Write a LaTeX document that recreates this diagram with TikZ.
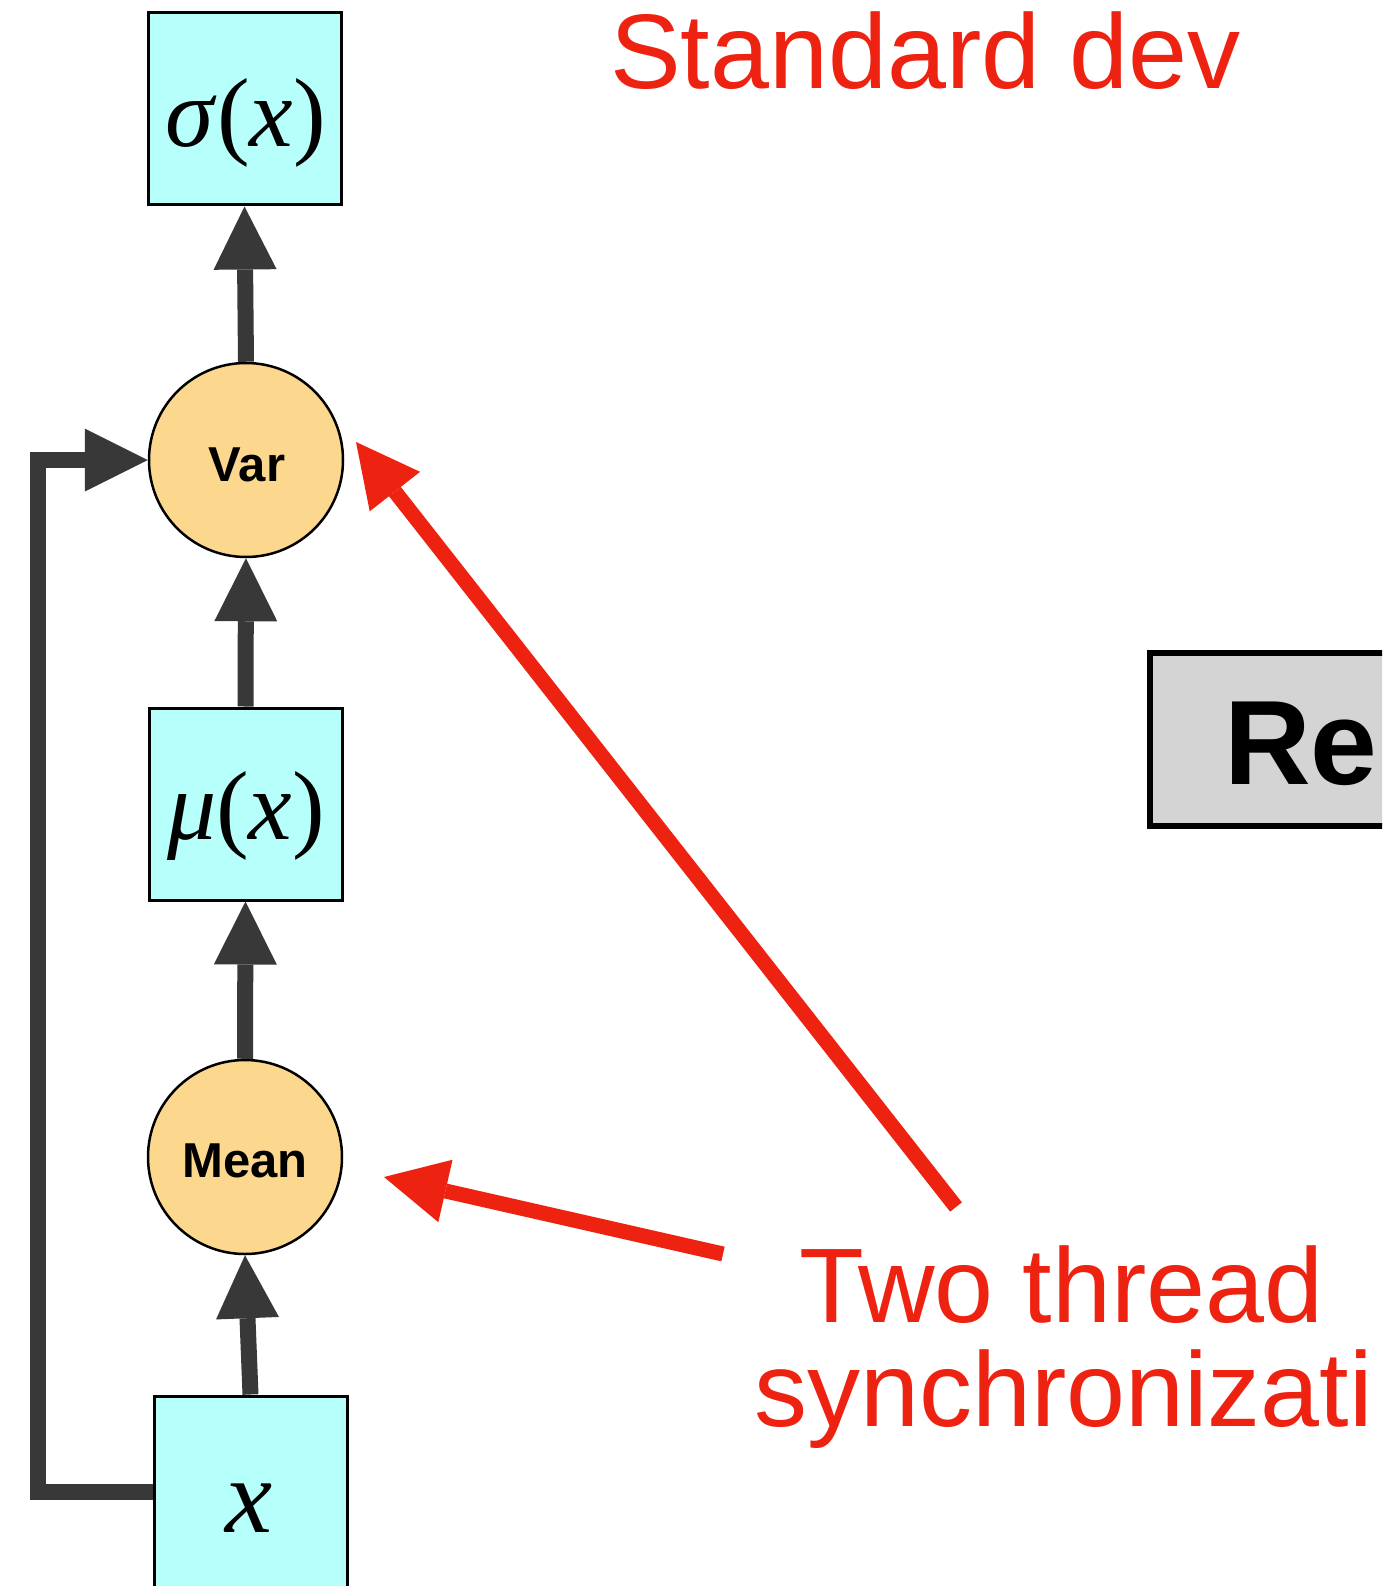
\documentclass[tikz,border=0pt]{standalone}
\usepackage{fontspec}
\setmainfont{Liberation Sans}
\newfontfamily\mathserif{Liberation Serif}
\usetikzlibrary{arrows.meta}
\definecolor{boxcyan}{RGB}{182,255,250}
\definecolor{circfill}{RGB}{251,216,142}
\definecolor{darkarr}{RGB}{56,56,56}
\definecolor{redarr}{RGB}{238,34,17}
\definecolor{regray}{RGB}{212,212,212}
\begin{document}
\begin{tikzpicture}[x=1pt,y=-1pt,
  mbox/.style={draw=black, line width=3pt, fill=boxcyan, minimum width=193pt, minimum height=192pt, inner sep=0pt},
  circ/.style={circle, draw=black, line width=2.5pt, fill=circfill, minimum size=194pt, inner sep=0pt},
  mtext/.style={inner sep=0pt, anchor=base, font=\mathserif\fontsize{98}{100}\selectfont},
  ctext/.style={inner sep=0pt, anchor=base, font=\bfseries\fontsize{49}{50}\selectfont},
  darr/.style={draw=darkarr, line width=16pt, -{Triangle[length=63pt,width=63pt,line width=0pt]}},
  rarr/.style={draw=redarr, line width=15pt, -{Triangle[length=63pt,width=64pt,line width=0pt]}},
  lbl/.style={inner sep=0pt, anchor=base west, text=redarr, font=\fontsize{106}{110}\selectfont}]
\useasboundingbox (0,0) rectangle (1382,1586);
\clip (0,0) rectangle (1382,1586);
\fill[white] (0,0) rectangle (1382,1586);

% boxes and circles
\node[mbox] (sig) at (244.5,109) {};
\node[mtext] (sigt) at (246,147) {\textit{σ}(\textit{x})};
\node[circ] (var) at (246,460) {};
\node[ctext] (vart) at (247,481) {Var};
\node[mbox] (mu) at (245.5,804) {};
\node[mtext] (mut) at (246,839) {\textit{μ}(\textit{x})};
\node[circ] (mean) at (245,1157) {};
\node[ctext] (meant) at (245,1177) {Mean};
\node[mbox] (xb) at (250.5,1492) {};
\node[mtext, font=\mathserif\fontsize{106}{110}\selectfont] (xt) at (249,1532) {\textit{x}};

% reduce box (cut off)
\node[draw=black, line width=6pt, fill=regray, minimum width=450pt, minimum height=173pt, anchor=north west, inner sep=0pt] (rebox) at (1147,650) {};
\node[inner sep=0pt, anchor=base west, font=\bfseries\fontsize{120}{124}\selectfont] (ret) at (1224,784) {Re};

% dark connectors
\coordinate (loopx) at (37.5,0);
\draw[darr] (var.north) -- (sig.south);
\draw[darr] (mu.north) -- (var.south);
\draw[darr] (mean.north) -- (mu.south);
\draw[darr] (xb.north) -- (mean.south);
\draw[darr] (xb.west) -- (xb.west -| loopx) -- (var.west -| loopx) -- (var.west);

% red labels and arrows
\node[lbl] (sd) at (610,89) {Standard dev};
\node[lbl] (two) at (799,1322) {Two thread};
\node[lbl] (sync) at (754,1426) {synchronizati};
\coordinate (r1s) at (956,1207);
\coordinate (r1e) at (356,442);
\coordinate (r2s) at (723,1254);
\coordinate (r2e) at (384,1177);
\draw[rarr] (r1s) -- (r1e);
\draw[rarr] (r2s) -- (r2e);
\end{tikzpicture}
\end{document}
